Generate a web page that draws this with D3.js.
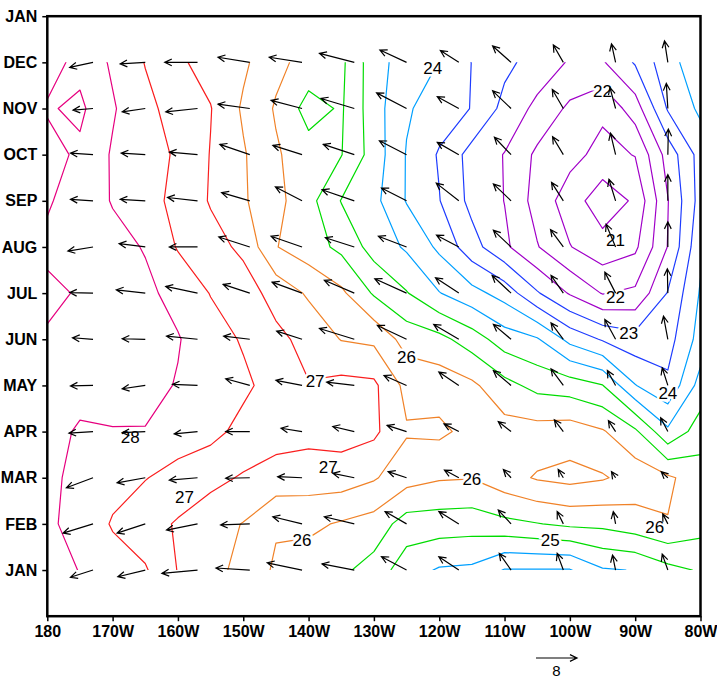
<!DOCTYPE html>
<html>
<head>
<meta charset="utf-8">
<script src="https://cdn.jsdelivr.net/npm/d3@7"></script>
<style>
  body { margin: 0; background: #fff; }
  text { font-family: 'Liberation Sans Narrow', 'Liberation Sans', sans-serif; }
  .axis text { font-size: 16px; font-weight: bold; fill: #000; }
  .axis line { stroke: #000; stroke-width: 1.5; }
  .clabel { font-family: 'Liberation Sans', sans-serif; font-size: 17px; fill: #000;
            stroke: #fff; stroke-width: 5; paint-order: stroke; }
</style>
</head>
<body>
<div id="chart"></div>
<script>
// SST grid: columns are the longitudes below, rows are the months JAN..DEC
var LONS = [180, 185, 190, 195, 200, 205, 210, 215, 220, 225, 230,
            235, 240, 245, 250, 255, 260, 265, 270, 275, 280];   // degrees east (180 .. 80W)
var MONTHS = ['JAN','FEB','MAR','APR','MAY','JUN','JUL','AUG','SEP','OCT','NOV','DEC','JAN'];
var LON_TICKS = [180, 190, 200, 210, 220, 230, 240, 250, 260, 270, 280];
var LEVELS = [21, 21.5, 22, 22.5, 23, 23.5, 24, 24.5, 25, 25.5, 26, 26.5, 27, 27.5, 28, 28.5];

var sst = [
  [28.25, 27.98, 27.75, 27.55, 26.98, 26.70, 26.32, 25.93, 25.77, 25.60, 25.30, 24.72, 24.45, 24.40, 23.97, 23.97, 23.97, 24.45, 24.52, 24.85, 25.05], // JAN
  [28.05, 27.90, 27.45, 27.20, 26.95, 26.70, 26.48, 26.05, 26.10, 25.95, 25.80, 25.27, 25.25, 25.22, 25.37, 25.48, 25.60, 25.62, 25.78, 25.98, 25.70], // FEB
  [28.10, 27.88, 27.70, 27.52, 27.33, 27.14, 26.95, 26.80, 26.75, 26.75, 26.55, 26.20, 26.05, 26.02, 26.30, 26.55, 26.65, 26.55, 26.30, 26.08, 25.75], // MAR
  [28.30, 27.90, 27.97, 27.98, 27.75, 27.65, 27.35, 27.20, 27.15, 27.20, 27.10, 26.55, 26.60, 26.35, 26.20, 26.20, 26.25, 26.05, 25.60, 24.60, 25.25], // APR
  [28.40, 28.30, 28.25, 28.15, 27.97, 27.85, 27.60, 27.30, 27.02, 27.15, 27.10, 26.35, 26.28, 26.10, 25.66, 25.35, 25.25, 25.02, 24.02, 23.60, 24.70], // MAY
  [28.45, 28.35, 28.20, 28.20, 28.03, 27.72, 27.45, 27.12, 26.85, 26.48, 26.40, 25.80, 25.65, 25.25, 24.75, 24.55, 23.85, 23.45, 23.20, 23.30, 24.20], // JUN
  [28.60, 28.46, 28.24, 28.10, 27.85, 27.48, 27.23, 26.82, 26.43, 26.10, 25.44, 25.03, 24.52, 24.17, 23.80, 23.05, 22.45, 21.97, 22.10, 23.03, 24.05], // JUL
  [28.40, 28.30, 28.15, 27.97, 27.46, 27.18, 26.90, 26.02, 25.73, 25.38, 24.80, 24.43, 23.90, 23.20, 22.60, 22.03, 21.52, 21.20, 21.40, 22.52, 23.90], // AUG
  [28.55, 28.28, 27.97, 27.69, 27.36, 26.96, 26.56, 26.15, 25.67, 24.98, 24.64, 23.97, 23.52, 22.85, 22.49, 21.80, 21.26, 20.70, 21.08, 22.48, 23.70], // SEP
  [28.70, 28.40, 27.95, 27.72, 27.43, 26.98, 26.55, 26.06, 25.72, 25.52, 24.78, 23.97, 23.45, 22.81, 22.48, 21.90, 21.65, 21.35, 21.52, 22.70, 23.70], // OCT
  [28.45, 28.60, 28.05, 27.63, 27.30, 27.02, 26.43, 25.95, 25.30, 25.56, 24.72, 24.06, 23.76, 23.48, 22.85, 22.37, 21.90, 21.60, 22.25, 23.55, 24.10], // NOV
  [28.70, 28.35, 27.93, 27.48, 27.08, 26.82, 26.59, 26.13, 25.82, 25.61, 24.71, 24.26, 23.99, 23.49, 23.12, 22.80, 22.45, 22.45, 23.05, 23.83, 24.30]  // DEC
];

// wind vectors (m/s): columns at these longitudes, rows JAN..DEC
var WIND_LONS = [187, 195, 203, 211, 219, 227, 235, 243, 251, 259, 267, 275];
var uWind = [
  [-4.4, -5.35, -6.95, -6.6, -6.8, -6.3, -4.9, -3.9, -2.3, -1.2, -0.6, -1.1],
  [-5.85, -5.5, -6.05, -5.7, -5.7, -5.85, -4.2, -3.9, -2.5, -1.2, -0.45, -1.0],
  [-5.2, -5.5, -5.5, -4.7, -4.75, -4.2, -3.6, -2.8, -1.5, -1.0, -0.8, -1.3],
  [-4.7, -4.5, -4.55, -4.7, -4.1, -4.2, -3.8, -2.9, -2.5, -1.75, -1.4, -1.4],
  [-4.4, -4.5, -4.9, -4.7, -5.1, -5.4, -4.4, -3.9, -3.45, -2.4, -1.6, -1.1],
  [-4.0, -4.5, -6.05, -5.1, -4.95, -6.8, -5.7, -4.9, -3.45, -2.4, -2.1, -0.85],
  [-4.55, -5.65, -6.2, -5.2, -5.85, -5.85, -6.2, -4.55, -3.7, -2.4, -2.1, -0.1],
  [-4.9, -5.1, -5.5, -6.05, -6.05, -5.65, -5.5, -4.35, -3.45, -2.5, -1.85, 0.0],
  [-4.4, -4.9, -5.85, -5.5, -5.2, -6.3, -4.9, -4.4, -3.45, -2.3, -1.3, 0.0],
  [-4.4, -4.7, -5.5, -5.85, -5.7, -6.05, -5.3, -4.2, -3.25, -2.1, -1.0, 0.1],
  [-3.9, -4.5, -6.2, -6.2, -6.05, -6.5, -5.85, -4.2, -3.6, -2.15, -1.1, -0.3],
  [-4.55, -4.9, -6.4, -6.2, -6.4, -6.8, -5.2, -3.6, -3.6, -1.95, -0.8, -0.65]
];
var vWind = [
  [-1.4, -1.3, -0.65, 0.4, 1.4, 1.2, 2.6, 2.6, 3.25, 3.25, 2.9, 3.1],
  [-1.8, -1.8, -1.2, -0.2, 1.4, 1.4, 2.4, 2.4, 2.7, 2.4, 2.4, 1.95],
  [-1.95, -1.0, -0.45, -0.1, 0.2, 0.85, 1.2, 1.5, 1.6, 1.6, 1.2, 1.2],
  [-0.3, -0.2, -0.45, 0.0, 0.65, 1.0, 1.2, 1.5, 1.95, 2.3, 2.15, 2.7],
  [-0.1, -0.65, 0.2, 1.3, 1.0, 0.65, 1.95, 2.6, 2.9, 3.25, 2.9, 3.45],
  [0.3, 0.1, 0.6, 0.6, 1.6, 2.1, 2.7, 2.9, 2.9, 3.2, 3.85, 4.5],
  [0.1, 0.65, 1.3, 1.7, 2.15, 2.5, 2.8, 3.0, 3.45, 3.45, 4.1, 4.75],
  [-0.8, 0.65, 0.0, 1.95, 2.1, 1.8, 2.1, 2.3, 3.25, 3.4, 4.45, 4.9],
  [0.3, 0.3, 0.65, 1.6, 2.7, 2.15, 2.5, 3.45, 3.3, 3.6, 4.2, 5.1],
  [0.3, 0.3, 0.5, 2.0, 1.8, 2.0, 2.7, 2.4, 3.4, 3.5, 4.2, 5.0],
  [-0.3, -0.65, -0.65, 0.85, 1.6, 1.95, 3.05, 2.3, 3.45, 3.7, 4.1, 4.9],
  [-0.98, -0.3, 0.0, 1.0, 1.0, 1.75, 2.4, 2.3, 3.2, 3.4, 3.6, 4.2]
];
var REF_SPEED = 8;

// contour labels: value, longitude (E), month
var labelVal = [24, 22, 21, 22, 23, 26, 24, 27, 28, 27, 26, 27, 26, 25, 26];
var labelLon = [239, 265, 267, 267, 269, 235, 275, 221, 192.7, 223, 245, 201, 219, 257, 273];
var labelMon = [11.88, 11.38, 8.15, 6.92, 6.14, 5.62, 4.84, 5.10, 3.88, 3.23, 2.98, 2.59, 1.65, 1.65, 1.93];

function levelColor(v) {
  var f = Math.floor(v);
  if (f <= 22) return '#a000c8';
  if (f === 23) return '#1e3cff';
  if (f === 24) return '#00a0ff';
  if (f === 25) return '#00dc00';
  if (f === 26) return '#f08228';
  if (f === 27) return '#fa1e1e';
  return '#e6007f';
}

var width = 717, height = 679;
var svg = d3.select('#chart').append('svg')
  .attr('width', width).attr('height', height);

var x = d3.scaleLinear().domain([180, 280]).range([47.3, 700.5]);
var y = d3.scaleLinear().domain([0, 13]).range([616.2, 16.2]);

// clip to the data rectangle
svg.append('clipPath').attr('id', 'dataclip')
  .append('rect')
  .attr('x', x(LONS[0])).attr('y', y(12))
  .attr('width', x(LONS[LONS.length - 1]) - x(LONS[0]))
  .attr('height', y(1) - y(12));

// contours
var nx = LONS.length, ny = sst.length;
var values = [];
sst.forEach(function(row) { row.forEach(function(v) { values.push(v); }); });

var gx = d3.scaleLinear().domain([0.5, nx - 0.5]).range([LONS[0], LONS[nx - 1]]);
var gy = d3.scaleLinear().domain([0.5, ny - 0.5]).range([1, ny]);
var proj = d3.geoTransform({
  point: function(px, py) { this.stream.point(x(gx(px)), y(gy(py))); }
});
var path = d3.geoPath(proj);

var contours = d3.contours().size([nx, ny]).thresholds(LEVELS)(values);

svg.append('g').attr('clip-path', 'url(#dataclip)')
  .selectAll('path')
  .data(contours)
  .enter().append('path')
  .attr('d', path)
  .attr('fill', 'none')
  .attr('stroke', function(d) { return levelColor(d.value); })
  .attr('stroke-width', 1.2)
  .attr('stroke-linejoin', 'round');

// contour labels
svg.append('g').selectAll('text')
  .data(labelVal)
  .enter().append('text')
  .attr('class', 'clabel')
  .attr('x', function(d, i) { return x(labelLon[i]); })
  .attr('y', function(d, i) { return y(labelMon[i]); })
  .attr('dy', '0.36em')
  .attr('text-anchor', 'middle')
  .text(function(d) { return d; });

// wind vectors
var vec = d3.scaleLinear().domain([0, REF_SPEED]).range([0, 41]);
function arrowPath(x0, y0, dx, dy) {
  var x1 = x0 + dx, y1 = y0 + dy;
  var a = Math.atan2(dy, dx), h = 7.8, s = 0.45;
  var b1x = x1 - h * Math.cos(a - s), b1y = y1 - h * Math.sin(a - s);
  var b2x = x1 - h * Math.cos(a + s), b2y = y1 - h * Math.sin(a + s);
  return 'M' + x0 + ',' + y0 + 'L' + x1 + ',' + y1 +
         'M' + b1x + ',' + b1y + 'L' + x1 + ',' + y1 + 'L' + b2x + ',' + b2y;
}

var arrows = [];
uWind.forEach(function(row, j) {
  row.forEach(function(u, i) {
    arrows.push({ lon: WIND_LONS[i], month: j + 1, u: u, v: vWind[j][i] });
  });
});

svg.append('g').selectAll('path')
  .data(arrows)
  .enter().append('path')
  .attr('d', function(d) {
    return arrowPath(x(d.lon), y(d.month), vec(d.u), -vec(d.v));
  })
  .attr('fill', 'none')
  .attr('stroke', '#000')
  .attr('stroke-width', 1.2);

// reference vector
var refX = 536, refY = 658;
svg.append('path')
  .attr('d', arrowPath(refX, refY, vec(REF_SPEED), 0))
  .attr('fill', 'none').attr('stroke', '#000').attr('stroke-width', 1.2);
svg.append('text')
  .attr('x', refX + vec(REF_SPEED) / 2).attr('y', 676)
  .attr('text-anchor', 'middle')
  .style('font-family', "'Liberation Sans', sans-serif")
  .style('font-size', '15px')
  .text(REF_SPEED);

// axes
var fmtLon = function(d) { return d === 180 ? '180' : (360 - d) + 'W'; };
var xAxis = svg.append('g').attr('class', 'axis')
  .attr('transform', 'translate(0,' + y(0) + ')')
  .call(d3.axisBottom(x).tickValues(LON_TICKS).tickSize(5).tickPadding(4).tickFormat(fmtLon));
var yAxis = svg.append('g').attr('class', 'axis')
  .attr('transform', 'translate(' + x(180) + ',0)')
  .call(d3.axisLeft(y).tickValues(d3.range(1, 14)).tickSize(5).tickPadding(5)
        .tickFormat(function(d) { return MONTHS[d - 1]; }));
xAxis.select('.domain').remove();
yAxis.select('.domain').remove();
xAxis.selectAll('text').attr('font-family', null).attr('font-size', null);
yAxis.selectAll('text').attr('font-family', null).attr('font-size', null);

// frame
svg.append('rect')
  .attr('x', x(180)).attr('y', y(13))
  .attr('width', x(280) - x(180)).attr('height', y(0) - y(13))
  .attr('fill', 'none').attr('stroke', '#000').attr('stroke-width', 2.5);
</script>
</body>
</html>
